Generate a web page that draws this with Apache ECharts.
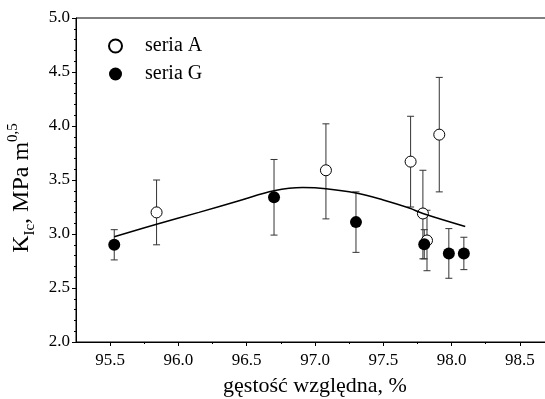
<!DOCTYPE html>
<html>
<head>
<meta charset="utf-8">
<script src="https://cdn.jsdelivr.net/npm/echarts@6/dist/echarts.min.js"></script>
<style>html,body{margin:0;padding:0;background:#fff}#c{width:545px;height:399px}</style>
</head>
<body>
<div id="c"></div>
<script>
// Seria A (open circles)
const seriaA_x = [95.84, 97.08, 97.70, 97.79, 97.82, 97.91];
const seriaA_y = [3.20, 3.59, 3.67, 3.19, 2.94, 3.92];
const seriaA_lo = [2.90, 3.14, 3.25, 2.77, 2.66, 3.39];
const seriaA_hi = [3.50, 4.02, 4.09, 3.59, 3.22, 4.45];
// Seria G (filled circles)
const seriaG_x = [95.53, 96.70, 97.30, 97.80, 97.98, 98.09];
const seriaG_y = [2.90, 3.34, 3.11, 2.905, 2.82, 2.82];
const seriaG_lo = [2.76, 2.99, 2.83, 2.77, 2.59, 2.67];
const seriaG_hi = [3.04, 3.69, 3.39, 3.04, 3.05, 2.97];
// Fitted curve
const fit_x = [95.53, 95.84, 96.15, 96.45, 96.70, 96.91, 97.08, 97.30, 97.50, 97.69, 97.79, 98.10];
const fit_y = [2.975, 3.09, 3.20, 3.31, 3.40, 3.43, 3.42, 3.38, 3.315, 3.24, 3.19, 3.07];
// Axis ticks
const xMajorTicks = [95.5, 96.0, 96.5, 97.0, 97.5, 98.0, 98.5];
const xMinorTicks = [95.75, 96.25, 96.75, 97.25, 97.75, 98.25];
const xTickLabels = ['95.5', '96.0', '96.5', '97.0', '97.5', '98.0', '98.5'];
const yTickLabels = ['2.0', '2.5', '3.0', '3.5', '4.0', '4.5', '5.0'];

const FONT = '"Liberation Serif", "Times New Roman", serif';
const zip = (a, b) => a.map((v, i) => [v, b[i]]);
const errData = (x, lo, hi) => x.map((v, i) => [v, lo[i], hi[i]]);

function errRender(params, api) {
  const x = api.value(0), lo = api.value(1), hi = api.value(2);
  const p1 = api.coord([x, hi]), p2 = api.coord([x, lo]);
  const w = 3.5;
  const st = { stroke: '#333', lineWidth: 1 };
  return {
    type: 'group',
    children: [
      { type: 'line', shape: { x1: p1[0], y1: p1[1], x2: p2[0], y2: p2[1] }, style: st },
      { type: 'line', shape: { x1: p1[0] - w, y1: p1[1], x2: p1[0] + w, y2: p1[1] }, style: st },
      { type: 'line', shape: { x1: p2[0] - w, y1: p2[1], x2: p2[0] + w, y2: p2[1] }, style: st }
    ]
  };
}

const chart = echarts.init(document.getElementById('c'), null, { renderer: 'canvas' });
chart.setOption({
  animation: false,
  backgroundColor: '#fff',
  textStyle: { fontFamily: FONT, color: '#000' },
  grid: { left: 76, top: 18, right: -9, bottom: 57, show: true, borderColor: '#000', borderWidth: 1,
    backgroundColor: 'transparent', containLabel: false, outerBoundsMode: 'none' },
  legend: {
    orient: 'vertical', left: 103, top: 31, itemGap: 8, itemWidth: 13, itemHeight: 13, padding: 5,
    textStyle: { fontFamily: FONT, fontSize: 20, color: '#000', padding: [0, 0, 0, 18] },
    data: ['seria A', 'seria G']
  },
  xAxis: [{
    type: 'value', min: 95.25, max: 98.75,
    name: 'gęstość względna, %', nameLocation: 'middle', nameGap: 33,
    nameTextStyle: { fontFamily: FONT, fontSize: 22, color: '#000' },
    axisLine: { show: true, lineStyle: { color: '#000', width: 1 } },
    axisTick: { show: true, length: 4, customValues: xMajorTicks, lineStyle: { color: '#000' } },
    axisLabel: { customValues: xMajorTicks, margin: 10, fontFamily: FONT, fontSize: 17, color: '#000',
      formatter: v => { const i = xMajorTicks.findIndex(t => Math.abs(t - v) < 1e-6); return i >= 0 ? xTickLabels[i] : ''; } },
    splitLine: { show: false }
  }, {
    type: 'value', min: 95.25, max: 98.75, position: 'bottom', gridIndex: 0,
    axisLine: { show: false },
    axisTick: { show: true, length: 2, customValues: xMinorTicks, lineStyle: { color: '#000' } },
    axisLabel: { show: false },
    splitLine: { show: false }
  }],
  yAxis: {
    type: 'value', min: 2, max: 5, interval: 0.5,
    name: '{k|K}{s|Ic}{k|, MPa m}{p|0,5}', nameLocation: 'middle', nameGap: 38, nameRotate: 90,
    nameTextStyle: {
      padding: [0, 16, 0, 0],
      rich: {
        k: { fontFamily: FONT, fontSize: 24, color: '#000', verticalAlign: 'bottom', lineHeight: 28 },
        s: { fontFamily: FONT, fontSize: 15, color: '#000', verticalAlign: 'bottom', padding: [0, 0, -4, 0], lineHeight: 28 },
        p: { fontFamily: FONT, fontSize: 15, color: '#000', verticalAlign: 'top', padding: [0, 0, 10, 0], lineHeight: 28 }
      }
    },
    axisLine: { show: true, lineStyle: { color: '#000', width: 1 } },
    axisTick: { show: true, length: 4, lineStyle: { color: '#000' } },
    minorTick: { show: true, splitNumber: 5, length: 2, lineStyle: { color: '#000' } },
    axisLabel: { margin: 6, fontFamily: FONT, fontSize: 17, color: '#000',
      formatter: v => yTickLabels[Math.round((v - 2) / 0.5)] },
    splitLine: { show: false }
  },
  series: [
    { type: 'custom', name: 'errA', renderItem: errRender, data: errData(seriaA_x, seriaA_lo, seriaA_hi), z: 2, silent: true },
    { type: 'custom', name: 'errG', renderItem: errRender, data: errData(seriaG_x, seriaG_lo, seriaG_hi), z: 2, silent: true },
    { type: 'scatter', name: 'seria A', data: zip(seriaA_x, seriaA_y), symbol: 'circle', symbolSize: 11,
      itemStyle: { color: '#fff', borderColor: '#000', borderWidth: 1, opacity: 1 }, z: 3 },
    { type: 'scatter', name: 'seria G', data: zip(seriaG_x, seriaG_y), symbol: 'circle', symbolSize: 12,
      itemStyle: { color: '#000', borderColor: '#000', borderWidth: 0, opacity: 1 }, z: 3 },
    { type: 'line', name: 'fit', data: zip(fit_x, fit_y), smooth: 0.4, showSymbol: false, symbol: 'none',
      lineStyle: { color: '#000', width: 1.5 }, z: 4, silent: true }
  ]
});
</script>
</body>
</html>
